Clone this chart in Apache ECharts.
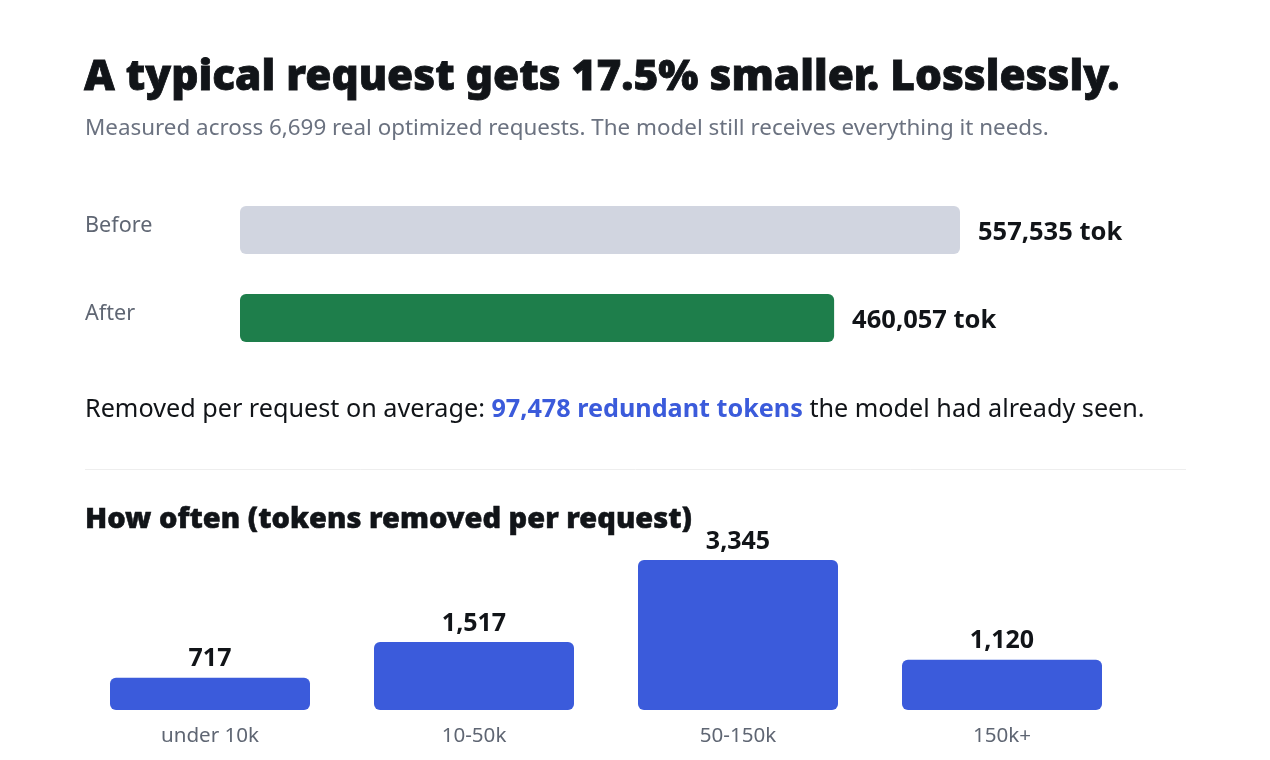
<!DOCTYPE html>
<html><head><meta charset="utf-8">
<script src="https://cdn.jsdelivr.net/npm/echarts@6/dist/echarts.min.js"></script>
<style>html,body{margin:0;padding:0;background:#fff}#c{width:1270px;height:760px}</style>
</head><body><div id="c"></div>
<script>
const compareLabels = ['Before', 'After'];
const compareValues = [557535, 460057];
const compareColors = ['#d1d5e0', '#1e7e4b'];
const removedAvg = 97478;
const totalRequests = 6699;
const histCategories = ['under 10k', '10-50k', '50-150k', '150k+'];
const histValues = [717, 1517, 3345, 1120];

const FONT = '"Noto Sans", "Open Sans", sans-serif';
const fmt = v => v.toLocaleString('en-US');

const chart = echarts.init(document.getElementById('c'), null, {renderer: 'canvas'});
chart.setOption({
  backgroundColor: '#ffffff',
  animation: false,
  textStyle: {fontFamily: FONT},
  title: [
    {text: 'A typical request gets 17.5% smaller. Losslessly.', left: 84, top: 57, padding: 0,
     textStyle: {fontFamily: FONT, fontSize: 42.4, fontWeight: 900, color: '#111418',
       textBorderColor: '#111418', textBorderWidth: 0.8}},
    {text: 'Measured across ' + fmt(totalRequests) + ' real optimized requests. The model still receives everything it needs.',
     left: 85, top: 118, padding: 0, textStyle: {fontFamily: FONT, fontSize: 22.4, fontWeight: 400, color: '#6b7280'}},
    {text: '{n|Removed per request on average: }{b|' + fmt(removedAvg) + ' redundant tokens}{n| the model had already seen.}',
     left: 85, top: 397, padding: 0,
     textStyle: {rich: {
       n: {fontFamily: FONT, fontSize: 25.2, color: '#111418', fontWeight: 400},
       b: {fontFamily: FONT, fontSize: 25.2, color: '#3b5bdb', fontWeight: 'bold'}
     }}},
    {text: 'How often (tokens removed per request)', left: 85, top: 505, padding: 0,
     textStyle: {fontFamily: FONT, fontSize: 29, fontWeight: 900, color: '#111418',
       textBorderColor: '#111418', textBorderWidth: 0.5}}
  ],
  graphic: [
    {type: 'line', shape: {x1: 85, y1: 469.5, x2: 1186, y2: 469.5}, style: {stroke: '#eeeeee', lineWidth: 1}}
  ],
  grid: [
    {left: 240, width: 720, top: 186, height: 176},
    {left: 78, width: 1056, top: 560, height: 150}
  ],
  xAxis: [
    {gridIndex: 0, type: 'value', min: 0, max: compareValues[0], show: false},
    {gridIndex: 1, type: 'category', data: histCategories,
     axisLine: {show: false}, axisTick: {show: false},
     axisLabel: {fontFamily: FONT, fontSize: 20.6, color: '#5f6673', margin: 16}}
  ],
  yAxis: [
    {gridIndex: 0, type: 'category', data: compareLabels, inverse: true,
     axisLine: {show: false}, axisTick: {show: false},
     axisLabel: {fontFamily: FONT, fontSize: 21.6, color: '#5f6673', align: 'left', margin: 155,
       verticalAlign: 'bottom', lineHeight: 8}},
    {gridIndex: 1, type: 'value', min: 0, max: histValues[2], show: false}
  ],
  series: [
    {type: 'bar', xAxisIndex: 0, yAxisIndex: 0, barWidth: 48,
     data: compareValues.map((v, i) => ({value: v, itemStyle: {color: compareColors[i]}})),
     itemStyle: {borderRadius: 6},
     label: {show: true, position: 'right', distance: 18, offset: [0, 3], formatter: p => fmt(p.value) + ' tok',
       fontFamily: FONT, fontSize: 25.5, fontWeight: 'bold', color: '#111418'}},
    {type: 'bar', xAxisIndex: 1, yAxisIndex: 1, barWidth: 200,
     data: histValues,
     itemStyle: {color: '#3b5bdb', borderRadius: 6},
     label: {show: true, position: 'top', distance: 6, formatter: p => fmt(p.value),
       fontFamily: FONT, fontSize: 25, fontWeight: 'bold', color: '#111418'}}
  ]
});
</script></body></html>
